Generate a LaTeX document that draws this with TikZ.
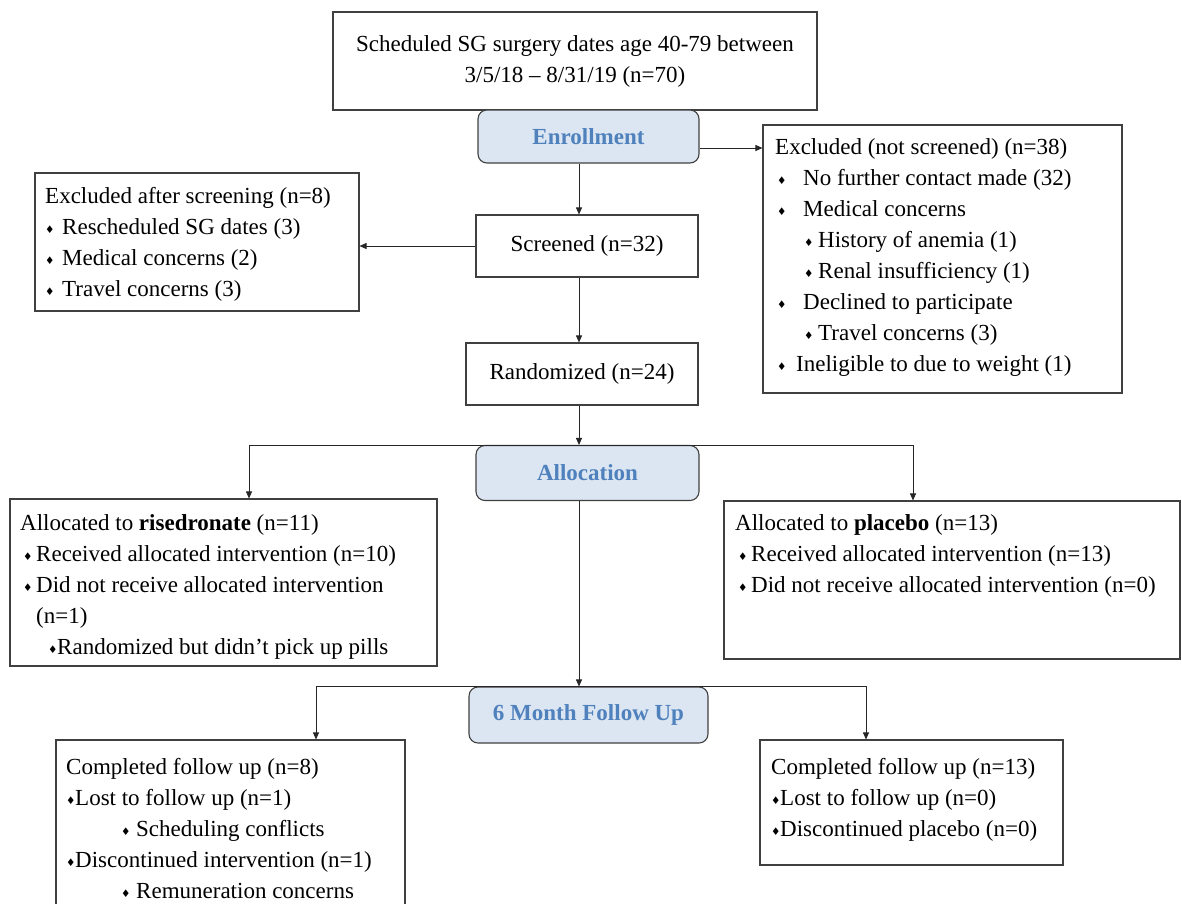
\documentclass[tikz,border=0pt]{standalone}
\usepackage{fontspec}
\setmainfont{Liberation Serif}
\newfontfamily\symf{DejaVu Sans}
\usetikzlibrary{arrows.meta,calc}
\definecolor{hdrfill}{HTML}{DCE6F2}
\definecolor{hdrtext}{HTML}{4F81BD}
\definecolor{edgec}{HTML}{404040}
\newcommand\bul{{\symf\fontsize{10.5}{10.5}\selectfont\raisebox{0.5pt}{♦}}}
\newcommand\bi[2]{\makebox[#2][l]{\hspace*{#1}\bul}}
\begin{document}
\begin{tikzpicture}[x=1pt,y=-1pt,
  every node/.append style={font=\fontsize{23}{31}\selectfont},
  box/.style={draw=edgec,line width=1.1pt,inner sep=0pt},
  hdr/.style={draw=edgec,line width=1.1pt,fill=hdrfill,rounded corners=9pt,text=hdrtext,inner sep=0pt,font=\fontsize{23}{31}\selectfont\bfseries},
  txt/.style={anchor=north west,inner sep=0pt,align=left},
  arr/.style={draw=black!85,line width=0.9pt,-{Triangle[length=7pt,width=6pt]}}]
\useasboundingbox (0,0) rectangle (1182,903);
\clip (0,0) rectangle (1182,903);

% boxes
\node[box,minimum width=484pt,minimum height=98pt,align=center] (top) at (575,61) {Scheduled SG surgery dates age 40-79 between\\3/5/18 – 8/31/19 (n=70)};
\node[hdr,minimum width=221pt,minimum height=53pt] (enroll) at (588.5,136.5) {Enrollment};
\node[box,minimum width=359pt,minimum height=268pt] (excl1) at (942.5,259) {};
\node[box,minimum width=222pt,minimum height=62pt] (scr) at (587,246) {Screened (n=32)};
\node[box,minimum width=324pt,minimum height=138pt] (excl2) at (197,242) {};
\node[box,minimum width=232pt,minimum height=62pt] (rand) at (582,374) {Randomized (n=24)};
\node[hdr,minimum width=223pt,minimum height=55pt] (alloc) at (587.5,473) {Allocation};
\node[box,minimum width=427pt,minimum height=167pt] (rise) at (223.5,582.5) {};
\node[box,minimum width=456pt,minimum height=158pt] (plac) at (952,580) {};
\node[hdr,minimum width=239pt,minimum height=56pt] (fu) at (588.5,715) {6 Month Follow Up};
\node[box,minimum width=349pt,minimum height=200pt] (comp1) at (230.5,840) {};
\node[box,minimum width=303pt,minimum height=125pt] (comp2) at (911.5,802.5) {};

% texts
\node[txt] (excl1t) at (775,138) {Excluded (not screened) (n=38)\\
\bi{2pt}{28pt}No further contact made (32)\\
\bi{2pt}{28pt}Medical concerns\\
\bi{29pt}{43pt}History of anemia (1)\\
\bi{29pt}{43pt}Renal insufficiency (1)\\
\bi{2pt}{28pt}Declined to participate\\
\bi{29pt}{43pt}Travel concerns (3)\\
\bi{2pt}{21pt}Ineligible to due to weight (1)};
\node[txt] (excl2t) at (45,187) {Excluded after screening (n=8)\\
\bi{0pt}{17pt}Rescheduled SG dates (3)\\
\bi{0pt}{17pt}Medical concerns (2)\\
\bi{0pt}{17pt}Travel concerns (3)};
\node[txt] (riset) at (20,514) {Allocated to \textbf{risedronate} (n=11)\\
\bi{3pt}{16pt}Received allocated intervention (n=10)\\
\bi{3pt}{16pt}Did not receive allocated intervention\\
\hspace*{16pt}(n=1)\\
\bi{28pt}{37pt}Randomized but didn’t pick up pills};
\node[txt] (plact) at (735,514) {Allocated to \textbf{placebo} (n=13)\\
\bi{3pt}{16pt}Received allocated intervention (n=13)\\
\bi{3pt}{16pt}Did not receive allocated intervention (n=0)};
\node[txt] (comp1t) at (66,758) {Completed follow up (n=8)\\
\bi{0pt}{9pt}Lost to follow up (n=1)\\
\bi{55pt}{70pt}Scheduling conflicts\\
\bi{0pt}{9pt}Discontinued intervention (n=1)\\
\bi{55pt}{70pt}Remuneration concerns};
\node[txt] (comp2t) at (771,758) {Completed follow up (n=13)\\
\bi{0pt}{9pt}Lost to follow up (n=0)\\
\bi{0pt}{9pt}Discontinued placebo (n=0)};

% helper coordinates
\coordinate (spine) at (579,0);
\coordinate (exr) at (0,148);
\coordinate (risex) at (249,0);
\coordinate (placx) at (913,0);
\coordinate (c1x) at (316,0);
\coordinate (c2x) at (866,0);

% connectors
\draw[arr] (enroll.east |- exr) -- (excl1.west |- exr);
\draw[arr] (enroll.south -| spine) -- (scr.north -| spine);
\draw[arr] (scr.west) -- (scr.west -| excl2.east);
\draw[arr] (scr.south -| spine) -- (rand.north -| spine);
\draw[arr] (rand.south -| spine) -- (alloc.north -| spine);
\draw[arr] (alloc.north) -| (rise.north -| risex);
\draw[arr] (alloc.north) -| (plac.north -| placx);
\draw[arr] (alloc.south -| spine) -- (fu.north -| spine);
\draw[arr] (fu.north) -| (comp1.north -| c1x);
\draw[arr] (fu.north) -| (comp2.north -| c2x);
\end{tikzpicture}
\end{document}
